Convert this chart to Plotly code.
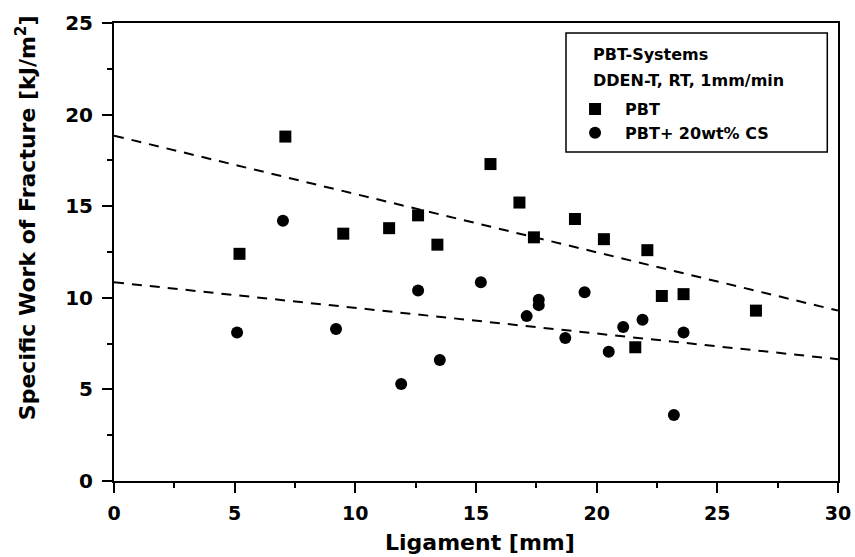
import plotly.graph_objects as go

# Data
pbt_x = [5.2, 7.1, 9.5, 11.4, 12.6, 13.4, 15.6, 16.8, 17.4, 19.1, 20.3, 21.6, 22.1, 22.7, 23.6, 26.6]
pbt_y = [12.4, 18.8, 13.5, 13.8, 14.5, 12.9, 17.3, 15.2, 13.3, 14.3, 13.2, 7.3, 12.6, 10.1, 10.2, 9.3]
cs_x = [5.1, 7.0, 9.2, 11.9, 12.6, 13.5, 15.2, 17.1, 17.6, 17.6, 18.7, 19.5, 20.5, 21.1, 21.9, 23.2, 23.6]
cs_y = [8.1, 14.2, 8.3, 5.3, 10.4, 6.6, 10.85, 9.0, 9.6, 9.9, 7.8, 10.3, 7.05, 8.4, 8.8, 3.6, 8.1]

fit_x = [0, 30]
pbt_fit = [18.85, 9.3]
cs_fit = [10.85, 6.65]

x_ticks = [0, 5, 10, 15, 20, 25, 30]
y_ticks = [0, 5, 10, 15, 20, 25]

FONT = "DejaVu Sans"

fig = go.Figure()
fig.add_trace(go.Scatter(x=fit_x, y=pbt_fit, mode="lines", showlegend=False,
                         line=dict(color="black", width=2, dash="10px,8px")))
fig.add_trace(go.Scatter(x=fit_x, y=cs_fit, mode="lines", showlegend=False,
                         line=dict(color="black", width=2, dash="10px,8px")))
fig.add_trace(go.Scatter(x=pbt_x, y=pbt_y, mode="markers", name="PBT",
                         marker=dict(symbol="square", size=12, color="black")))
fig.add_trace(go.Scatter(x=cs_x, y=cs_y, mode="markers", name="PBT+ 20wt% CS",
                         marker=dict(symbol="circle", size=12, color="black")))

axis_common = dict(
    showgrid=False, zeroline=False, showline=True, linecolor="black", linewidth=2,
    mirror=True, ticks="outside", ticklen=10, tickwidth=2, tickcolor="black",
    automargin=False,
)

fig.update_xaxes(range=[0, 30], tickvals=x_ticks, ticklabelstandoff=4,
                 tickfont=dict(family=FONT, size=19, color="black", weight="bold"),
                 minor=dict(dtick=2.5, ticks="outside", ticklen=5, tickwidth=2, tickcolor="black"),
                 **axis_common)
fig.update_yaxes(range=[0, 25], tickvals=y_ticks, ticklabelstandoff=5,
                 tickfont=dict(family=FONT, size=20, color="black", weight="bold"),
                 minor=dict(dtick=2.5, ticks="outside", ticklen=5, tickwidth=2, tickcolor="black"),
                 **axis_common)

# x-axis title
fig.add_annotation(text="Ligament [mm]", xref="paper", yref="paper", x=0.505, y=0,
                   yshift=-61, showarrow=False, xanchor="center", yanchor="middle",
                   font=dict(family=FONT, size=22, color="black", weight="bold"))

# y-axis title
fig.add_annotation(text="Specific Work of Fracture [kJ/m<sup>2</sup>]", textangle=-90,
                   xref="paper", yref="paper", x=-0.1215, y=0.574, showarrow=False,
                   xanchor="center", yanchor="middle",
                   font=dict(family=FONT, size=22, color="black", weight="bold"))

# legend box header
fig.add_shape(type="rect", xref="paper", yref="paper", x0=0.6243, x1=0.9852, y0=0.7185, y1=0.9782,
              line=dict(color="black", width=1.5), fillcolor="rgba(0,0,0,0)")
fig.add_annotation(text="PBT-Systems", xref="paper", yref="paper", x=0.659, y=0.9306,
                   showarrow=False, xanchor="left", yanchor="middle",
                   font=dict(family=FONT, size=16, color="black", weight="bold"))
fig.add_annotation(text="DDEN-T, RT, 1mm/min", xref="paper", yref="paper", x=0.659, y=0.875,
                   showarrow=False, xanchor="left", yanchor="middle",
                   font=dict(family=FONT, size=16, color="black", weight="bold"))

fig.update_layout(
    width=855, height=557,
    margin=dict(l=114, r=17, t=23, b=76),
    paper_bgcolor="white", plot_bgcolor="white",
    legend=dict(x=0.623, y=0.849, xanchor="left", yanchor="top",
                bgcolor="rgba(0,0,0,0)", borderwidth=0, itemwidth=50,
                font=dict(family=FONT, size=16, color="black", weight="bold"),
                tracegroupgap=0),
    font=dict(family=FONT, color="black"),
)

fig.write_html("out.html", config={"displayModeBar": False},
               post_script="document.body.style.margin='0';document.body.style.padding='0';")
